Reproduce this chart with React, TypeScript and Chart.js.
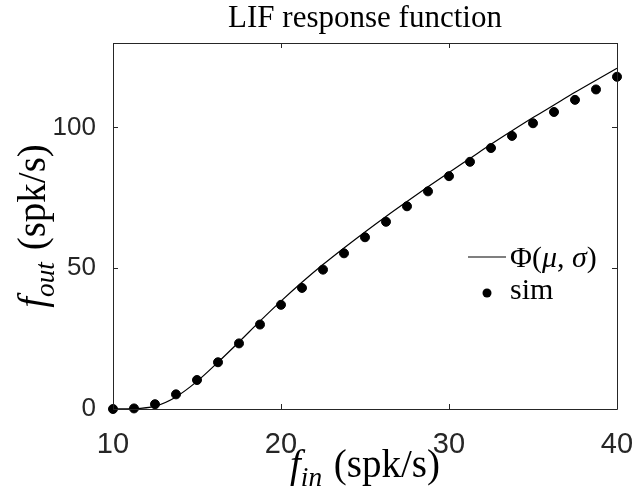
import React, { useEffect, useRef } from "react";
import { Chart, registerables } from "chart.js";

Chart.register(...registerables);

const xValues = [10, 11.25, 12.5, 13.75, 15, 16.25, 17.5, 18.75, 20, 21.25, 22.5, 23.75, 25, 26.25, 27.5, 28.75, 30, 31.25, 32.5, 33.75, 35, 36.25, 37.5, 38.75, 40];
const simValues = [0, 0.2, 1.7, 5.2, 10.3, 16.6, 23.3, 30, 37, 43, 49.5, 55.3, 61, 66.5, 72, 77.3, 82.7, 87.8, 92.7, 97, 101.5, 105.5, 109.8, 113.5, 118];
const phiValues = [0, 0.1, 1.0, 4.3, 9.8, 16.6, 23.8, 31.2, 38.3, 45, 51.3, 57.2, 62.9, 68.4, 73.7, 78.9, 84, 89, 94, 98.8, 103.5, 108, 112.5, 116.8, 121];
const xTicks = [10, 20, 30, 40];
const yTicks = [0, 50, 100];
const titleText = "LIF response function";
const xLabelParts = [
  { t: "f", it: true },
  { t: "in", it: true, sub: true },
  { t: " (spk/s)" },
];
const yLabelParts = [
  { t: "f", it: true },
  { t: "out", it: true, sub: true },
  { t: " (spk/s)" },
];
const phiLabelParts = [
  { t: "Φ(" },
  { t: "μ", it: true },
  { t: ", " },
  { t: "σ", it: true },
  { t: ")" },
];
const simLabel = "sim";

type Part = { t: string; it?: boolean; sub?: boolean };

const SERIF = '"Liberation Serif", "Times New Roman", serif';

function partsWidth(ctx: CanvasRenderingContext2D, parts: Part[], size: number) {
  let w = 0;
  for (const p of parts) {
    const s = p.sub ? size * 0.7 : size;
    ctx.font = `${p.it ? "italic " : ""}${s}px ${SERIF}`;
    w += ctx.measureText(p.t).width + (p.sub ? 2 : 0);
  }
  return w;
}

function drawParts(ctx: CanvasRenderingContext2D, parts: Part[], size: number, x: number, y: number) {
  let cx = x;
  ctx.textBaseline = "alphabetic";
  ctx.textAlign = "left";
  for (const p of parts) {
    const s = p.sub ? size * 0.7 : size;
    ctx.font = `${p.it ? "italic " : ""}${s}px ${SERIF}`;
    const dy = p.sub ? size * 0.22 : 0;
    ctx.fillText(p.t, cx, y + dy);
    cx += ctx.measureText(p.t).width + (p.sub ? 2 : 0);
  }
}

const decorPlugin = {
  id: "decor",
  afterDraw(chart: any) {
    const ctx: CanvasRenderingContext2D = chart.ctx;
    const { left, right, top, bottom } = chart.chartArea;
    const xs = chart.scales.x;
    const ys = chart.scales.y;
    ctx.save();
    // box
    ctx.strokeStyle = "#262626";
    ctx.lineWidth = 1;
    ctx.beginPath();
    ctx.rect(Math.round(left) + 0.5, Math.round(top) + 0.5, Math.round(right - left), Math.round(bottom - top));
    ctx.stroke();
    // ticks
    const tl = 5;
    ctx.beginPath();
    for (const v of xTicks) {
      const px = Math.round(xs.getPixelForValue(v)) + 0.5;
      ctx.moveTo(px, bottom);
      ctx.lineTo(px, bottom - tl);
      ctx.moveTo(px, top);
      ctx.lineTo(px, top + tl);
    }
    for (const v of yTicks) {
      const py = Math.round(ys.getPixelForValue(v)) + 0.5;
      ctx.moveTo(left, py);
      ctx.lineTo(left + tl, py);
      ctx.moveTo(right, py);
      ctx.lineTo(right - tl, py);
    }
    ctx.stroke();

    ctx.fillStyle = "#000";
    // title
    const cx = (left + right) / 2;
    ctx.font = `31px ${SERIF}`;
    ctx.textAlign = "center";
    ctx.textBaseline = "alphabetic";
    ctx.fillText(titleText, cx, top - 16);

    // x label
    const lsz = 39;
    const xw = partsWidth(ctx, xLabelParts, lsz);
    drawParts(ctx, xLabelParts, lsz, cx - xw / 2, bottom + 68);

    // y label
    const yw = partsWidth(ctx, yLabelParts, lsz);
    ctx.save();
    ctx.translate(left - 68, (top + bottom) / 2);
    ctx.rotate(-Math.PI / 2);
    drawParts(ctx, yLabelParts, lsz, -yw / 2, 0);
    ctx.restore();

    // legend
    const gsz = 30;
    const lx = right - 149;
    const ly1 = top + 214;
    ctx.strokeStyle = "#000";
    ctx.lineWidth = 1.2;
    ctx.beginPath();
    ctx.moveTo(lx, ly1);
    ctx.lineTo(lx + 38, ly1);
    ctx.stroke();
    drawParts(ctx, phiLabelParts, gsz, lx + 42, ly1 + 10);
    const ly2 = ly1 + 36;
    ctx.beginPath();
    ctx.arc(lx + 19, ly2, 4.5, 0, Math.PI * 2);
    ctx.fill();
    ctx.font = `${gsz}px ${SERIF}`;
    ctx.textAlign = "left";
    ctx.fillText(simLabel, lx + 42, ly2 + 6);
    ctx.restore();
  },
};

export default function App() {
  const ref = useRef<HTMLCanvasElement | null>(null);
  useEffect(() => {
    if (!ref.current) return;
    const chart = new Chart(ref.current, {
      type: "scatter",
      data: {
        datasets: [
          {
            type: "line",
            label: "Phi",
            data: xValues.map((x, i) => ({ x, y: phiValues[i] })),
            borderColor: "#000",
            borderWidth: 1.2,
            pointRadius: 0,
            cubicInterpolationMode: "monotone",
            fill: false,
            clip: false as any,
          } as any,
          {
            type: "scatter",
            label: "sim",
            data: xValues.map((x, i) => ({ x, y: simValues[i] })),
            backgroundColor: "#000",
            borderColor: "#000",
            pointRadius: 4.5,
            pointHoverRadius: 4.5,
            showLine: false,
            clip: false as any,
          } as any,
        ],
      },
      options: {
        responsive: false,
        animation: false,
        events: [],
        layout: { padding: { left: 0, top: 43, right: 19, bottom: 0 } },
        plugins: {
          legend: { display: false },
          title: { display: false },
          tooltip: { enabled: false },
        },
        scales: {
          x: {
            type: "linear",
            min: 10,
            max: 40,
            grid: { display: false, drawTicks: false },
            border: { display: false },
            afterBuildTicks: (s: any) => {
              s.ticks = xTicks.map((v) => ({ value: v }));
            },
            afterFit: (s: any) => {
              s.height = 86;
              s.paddingLeft = 0;
              s.paddingRight = 0;
            },
            ticks: {
              padding: 19,
              color: "#262626",
              font: { family: '"Liberation Sans", Arial, sans-serif', size: 29 },
              callback: (v: any) => String(v),
              maxRotation: 0,
            },
          },
          y: {
            type: "linear",
            min: 0,
            max: 130,
            grid: { display: false, drawTicks: false },
            border: { display: false },
            afterBuildTicks: (s: any) => {
              s.ticks = yTicks.map((v) => ({ value: v }));
            },
            afterFit: (s: any) => {
              s.width = 113;
              s.paddingTop = 0;
              s.paddingBottom = 0;
            },
            ticks: {
              padding: 17,
              color: "#262626",
              font: { family: '"Liberation Sans", Arial, sans-serif', size: 26 },
              callback: (v: any) => String(v),
            },
          },
        },
      },
      plugins: [decorPlugin],
    });
    return () => chart.destroy();
  }, []);
  return (
    <div style={{ position: "fixed", left: 0, top: 0, width: 636, height: 495, background: "#fff" }}>
      <canvas ref={ref} width={636} height={495} style={{ display: "block" }} />
    </div>
  );
}
